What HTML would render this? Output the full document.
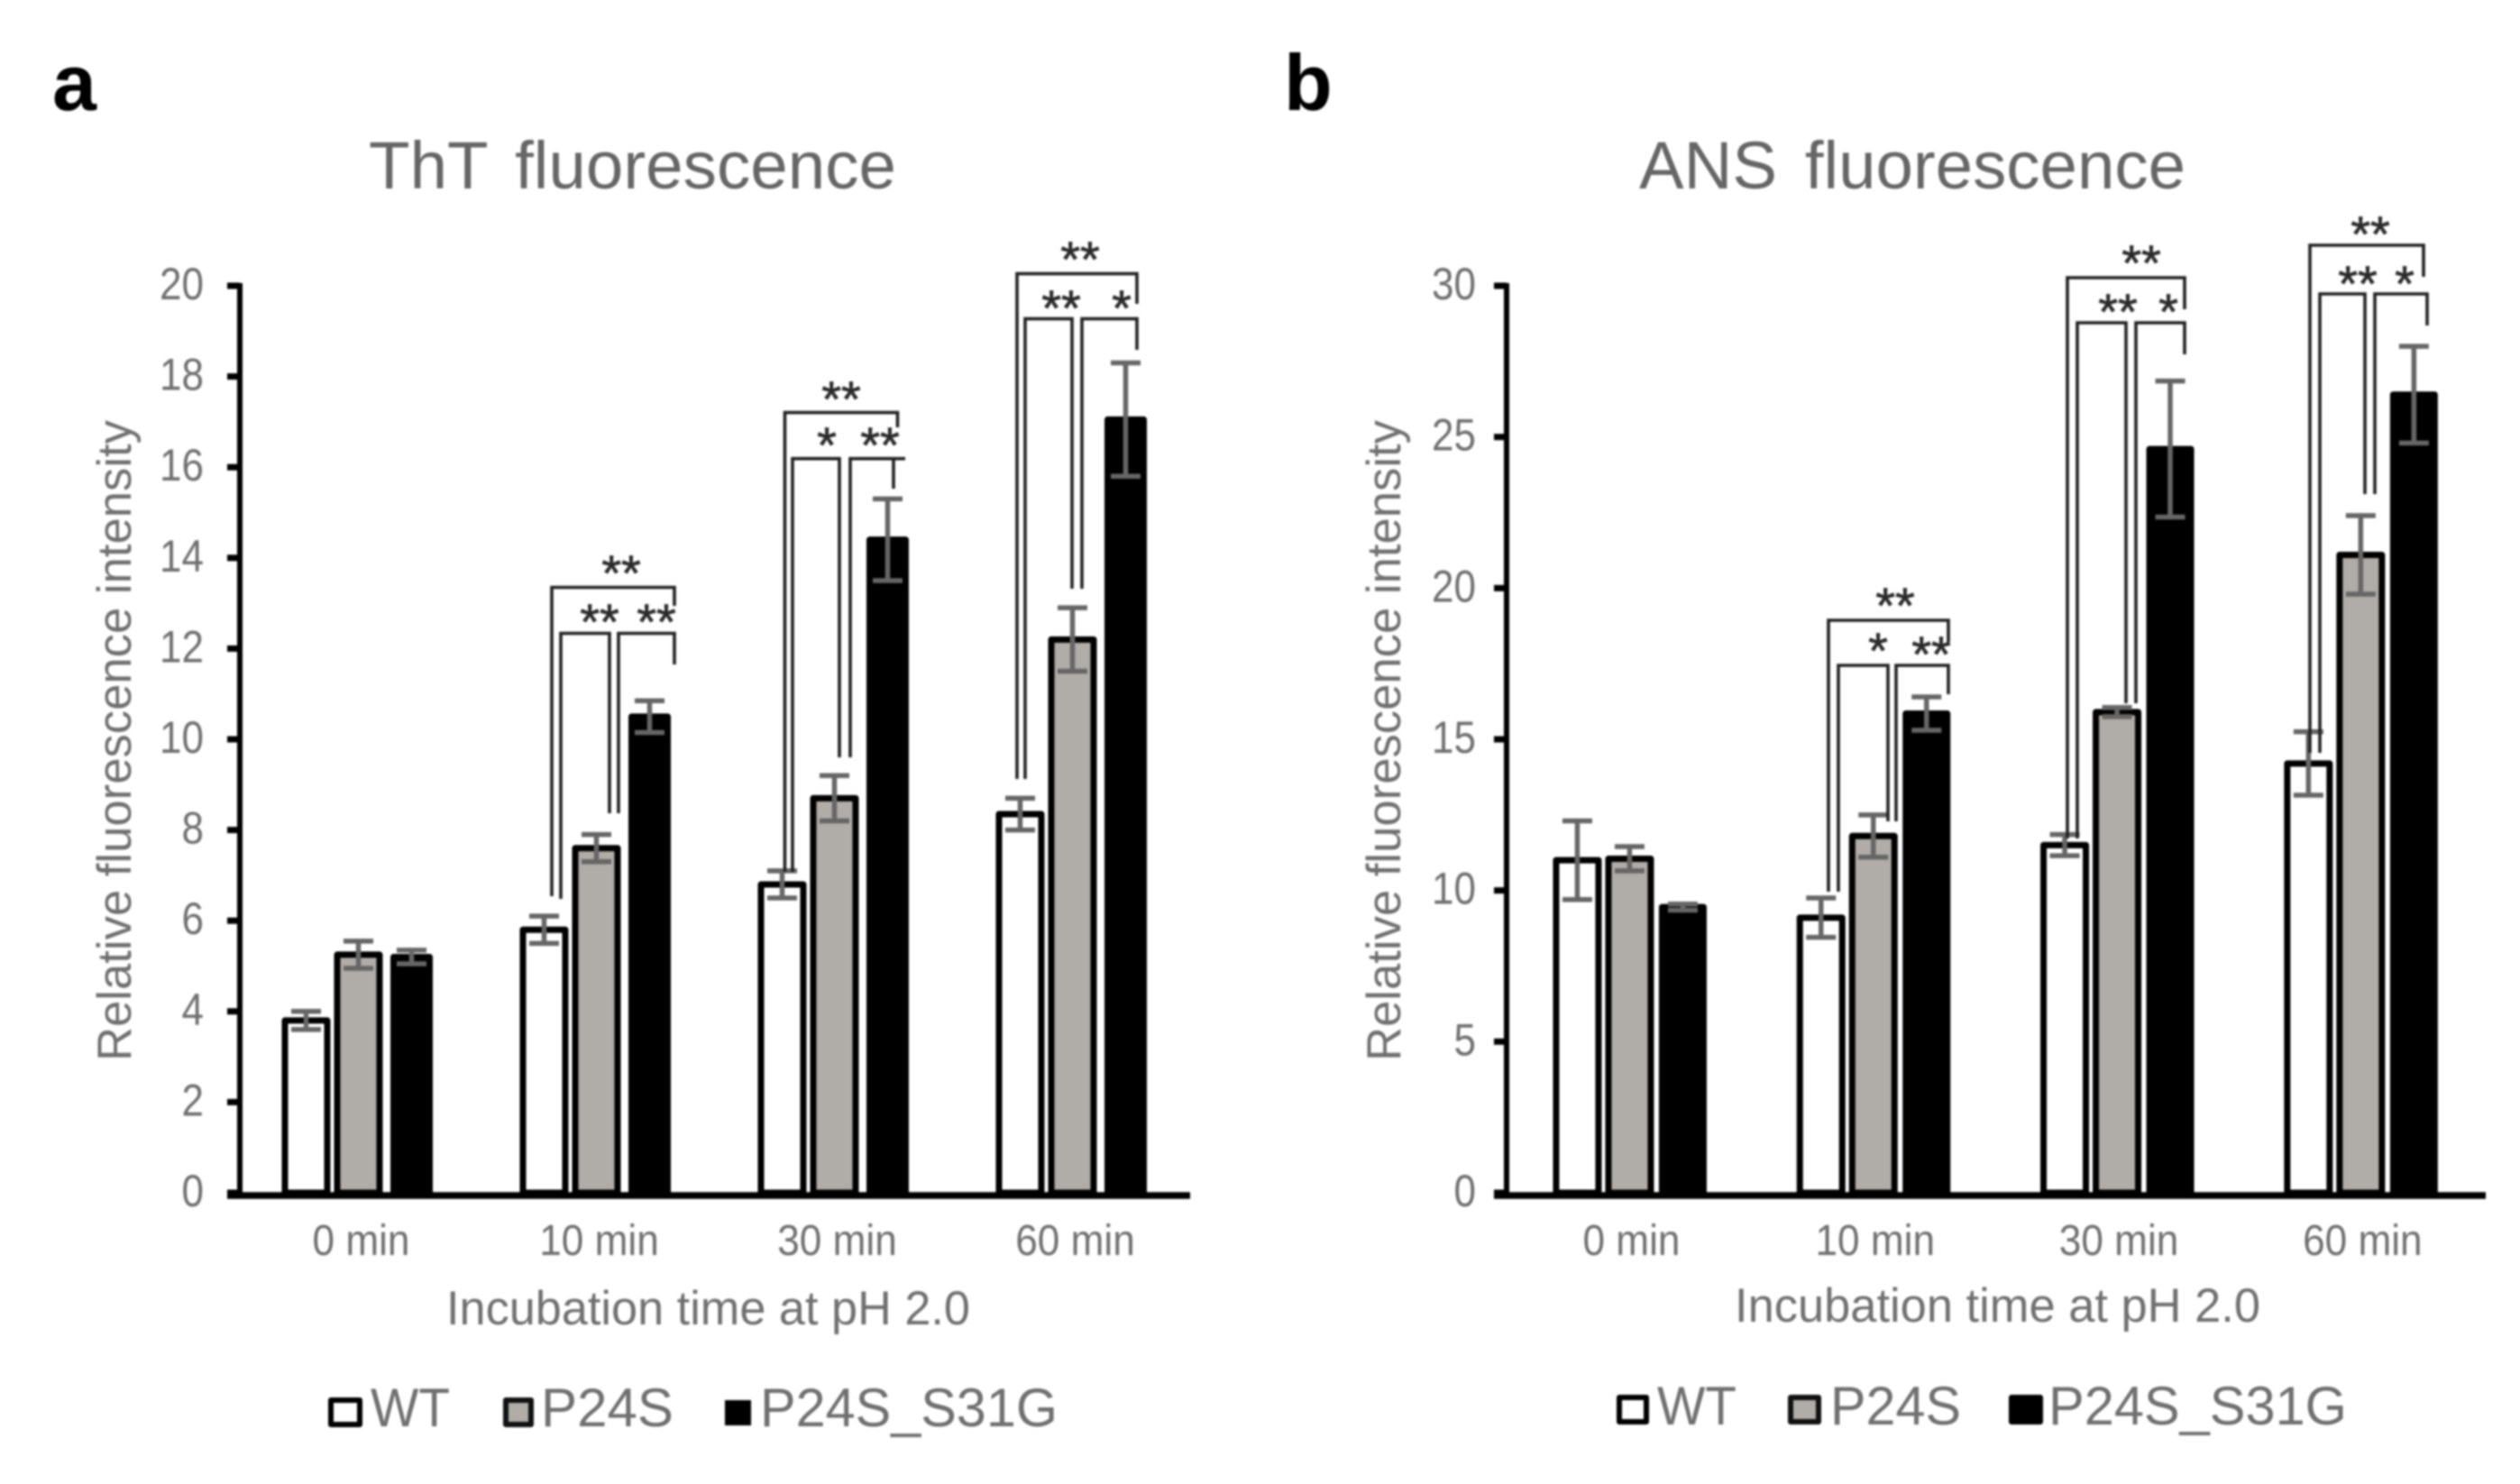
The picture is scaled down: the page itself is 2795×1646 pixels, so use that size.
<!DOCTYPE html>
<html lang="en">
<head>
<meta charset="utf-8">
<title>ThT and ANS fluorescence</title>
<style>
html,body{margin:0;padding:0;background:#fff;}
svg{display:block;filter:blur(1px);}
text{font-family:"Liberation Sans",sans-serif;fill:#707070;}
.panel{font-weight:700;font-size:88px;fill:#000;}
.title{font-size:74px;fill:#666;word-spacing:10px;}
.axt{font-size:53px;}
.leg{font-size:60px;}
.star{font-size:56px;fill:#2a2a2a;stroke:#2a2a2a;stroke-width:0.7;text-anchor:middle;}
.br{fill:none;stroke:#222;stroke-width:3.6;}
</style>
</head>
<body>
<svg id="fig" width="2795" height="1646" viewBox="0 0 2795 1646" xmlns="http://www.w3.org/2000/svg">
  <rect width="2795" height="1646" fill="#fff"/>

  <text class="panel" x="58" y="122">a</text>
  <text class="panel" x="1424" y="122">b</text>

  <text class="title" x="409" y="209" textLength="585" lengthAdjust="spacingAndGlyphs">ThT fluorescence</text>
  <text class="title" x="1818" y="209" textLength="606" lengthAdjust="spacingAndGlyphs">ANS fluorescence</text>

  <text class="axt" transform="translate(145,1177) rotate(-90)" textLength="711" lengthAdjust="spacingAndGlyphs">Relative fluorescence intensity</text>
  <text class="axt" transform="translate(1553,1177) rotate(-90)" textLength="711" lengthAdjust="spacingAndGlyphs">Relative fluorescence intensity</text>

  <text class="axt" x="495" y="1469" textLength="581" lengthAdjust="spacingAndGlyphs">Incubation time at pH 2.0</text>
  <text class="axt" x="1924" y="1466" textLength="583" lengthAdjust="spacingAndGlyphs">Incubation time at pH 2.0</text>

  <g id="chartA"></g>
  <g id="chartB"></g>

  <g>
    <path class="br" d="M612 994V651.5H748V672"/>
    <path class="br" d="M622 997V702.5H676V902"/>
    <path class="br" d="M686 902V702.5H748V737"/>
    <path class="br" d="M870.5 967V457.6H995.5V474"/>
    <path class="br" d="M879 967V508.7H931V840"/>
    <path class="br" d="M943 840V508.7H1004M991 508.7V542"/>
    <path class="br" d="M1128 864V303.6H1261V337"/>
    <path class="br" d="M1137 864V353.6H1189V653"/>
    <path class="br" d="M1200 653V353.6H1261V388"/>
    <text class="star" x="689" y="655">**</text>
    <text class="star" x="665" y="709">**</text>
    <text class="star" x="728" y="709">**</text>
    <text class="star" x="933" y="462">**</text>
    <text class="star" x="917" y="513">*</text>
    <text class="star" x="976" y="513">**</text>
    <text class="star" x="1198" y="307">**</text>
    <text class="star" x="1177" y="361">**</text>
    <text class="star" x="1244" y="361">*</text>
  </g>

  <g>
    <path class="br" d="M2028 989V688H2161V712"/>
    <path class="br" d="M2039 989V738H2094V911"/>
    <path class="br" d="M2103 911V738H2161V770"/>
    <path class="br" d="M2293 930V308H2423V343"/>
    <path class="br" d="M2304 930V358H2358V780"/>
    <path class="br" d="M2369 780V358H2423V393"/>
    <path class="br" d="M2562 835V272H2688V307"/>
    <path class="br" d="M2573 835V326H2623V548"/>
    <path class="br" d="M2634 548V326H2692V361"/>
    <text class="star" x="2102" y="691">**</text>
    <text class="star" x="2083" y="741">*</text>
    <text class="star" x="2142" y="745">**</text>
    <text class="star" x="2375" y="311">**</text>
    <text class="star" x="2349" y="365">**</text>
    <text class="star" x="2405" y="365">*</text>
    <text class="star" x="2629" y="279">**</text>
    <text class="star" x="2615" y="334">**</text>
    <text class="star" x="2667" y="334">*</text>
  </g>

  <g>
    <rect x="367" y="1553" width="32" height="27" fill="#fff" stroke="#000" stroke-width="6" stroke-linejoin="round"/>
    <text class="leg" x="411" y="1582" textLength="88" lengthAdjust="spacingAndGlyphs">WT</text>
    <rect x="561" y="1553" width="28" height="27" fill="#b0aca8" stroke="#111" stroke-width="6" stroke-linejoin="round"/>
    <text class="leg" x="600" y="1582" textLength="147" lengthAdjust="spacingAndGlyphs">P24S</text>
    <rect x="804" y="1553" width="29" height="28" fill="#000"/>
    <text class="leg" x="843" y="1582" textLength="330" lengthAdjust="spacingAndGlyphs">P24S_S31G</text>
  </g>
  <g>
    <rect x="1796" y="1550" width="30" height="27" fill="#fff" stroke="#000" stroke-width="6" stroke-linejoin="round"/>
    <text class="leg" x="1838" y="1580" textLength="88" lengthAdjust="spacingAndGlyphs">WT</text>
    <rect x="1986" y="1550" width="31" height="27" fill="#b0aca8" stroke="#111" stroke-width="6" stroke-linejoin="round"/>
    <text class="leg" x="2030" y="1580" textLength="145" lengthAdjust="spacingAndGlyphs">P24S</text>
    <rect x="2228" y="1547" width="38" height="33" fill="#000" rx="3"/>
    <text class="leg" x="2272" y="1580" textLength="331" lengthAdjust="spacingAndGlyphs">P24S_S31G</text>
  </g>
</svg>

<script>
// Shared categories
const categories = ['0 min', '10 min', '30 min', '60 min'];

// Panel a: ThT fluorescence
const thtTicks = [0, 2, 4, 6, 8, 10, 12, 14, 16, 18, 20];
const thtWT = [3.8, 5.8, 6.8, 8.35];
const thtP24S = [5.25, 7.6, 8.7, 12.2];
const thtS31G = [5.2, 10.5, 14.4, 17.05];
const thtWTErr = [0.2, 0.3, 0.3, 0.35];
const thtP24SErr = [0.3, 0.3, 0.5, 0.7];
const thtS31GErr = [0.15, 0.35, 0.9, 1.25];

// Panel b: ANS fluorescence
const ansTicks = [0, 5, 10, 15, 20, 25, 30];
const ansWT = [11, 9.1, 11.5, 14.2];
const ansP24S = [11.05, 11.8, 15.9, 21.1];
const ansS31G = [9.45, 15.85, 24.6, 26.4];
const ansWTErr = [1.3, 0.65, 0.35, 1.05];
const ansP24SErr = [0.4, 0.7, 0.15, 1.3];
const ansS31GErr = [0.1, 0.55, 2.25, 1.6];

const NS = 'http://www.w3.org/2000/svg';

function make(parent, tag, props, label) {
  const el = document.createElementNS(NS, tag);
  for (const k in props) el.setAttribute(k, props[k]);
  
  
  parent.appendChild(el);
  return el;
}

function squeeze(el, factor) {
  el.setAttribute('textLength', el.getComputedTextLength() * factor);
  el.setAttribute('lengthAdjust', 'spacingAndGlyphs');
}

function drawChart(root, prefix, layout, ticks, series, errors) {
  const yMax = ticks[ticks.length - 1];
  const yAxis = v => layout.y0 - v * (layout.y0 - layout.yTop) / yMax;
  const xBand = i => layout.bandStart + layout.bandStep * (i + 0.5);
  const fills = ['#fff', '#b0aca8', '#000'];
  const names = ['wt', 'p24s', 'p24s-s31g'];
  const offsets = [-58, 0, 59];
  const widths = [47, 47, layout.blackWidth];

  series.forEach((vals, s) => {
    vals.forEach((v, i) => {
      const cx = xBand(i) + offsets[s];
      const top = yAxis(v);
      make(root, 'rect', {
        x: cx - widths[s] / 2, y: top, width: widths[s], height: layout.y0 - top,
        fill: fills[s], stroke: '#000', 'stroke-width': 7, 'stroke-linejoin': 'round'
      }, 'bar-' + names[s] + '-' + categories[i].replace(' ', '-'));
    });
  });

  series.forEach((vals, s) => {
    vals.forEach((v, i) => {
      const cx = xBand(i) + offsets[s];
      const hi = yAxis(v + errors[s][i]);
      const lo = yAxis(v - errors[s][i]);
      const d = 'M' + cx + ' ' + hi + 'V' + lo +
                'M' + (cx - 16.5) + ' ' + hi + 'H' + (cx + 16.5) +
                'M' + (cx - 16.5) + ' ' + lo + 'H' + (cx + 16.5);
      make(root, 'path', { d: d, fill: 'none', stroke: '#666', 'stroke-width': 5.5 },
        'error-bar-' + names[s] + '-' + categories[i].replace(' ', '-'));
    });
  });

  make(root, 'line', {
    x1: layout.axisX, x2: layout.axisX, y1: layout.yTop - 3, y2: layout.y0 + 3,
    stroke: '#000', 'stroke-width': 6
  }, prefix + '-y-axis-line');
  make(root, 'line', {
    x1: layout.axisX - 14, x2: layout.xEnd, y1: layout.y0 + 3, y2: layout.y0 + 3,
    stroke: '#000', 'stroke-width': 7.5
  }, prefix + '-x-axis-line');

  ticks.forEach(t => {
    const y = yAxis(t);
    make(root, 'line', {
      x1: layout.axisX - 14, x2: layout.axisX, y1: y, y2: y,
      stroke: '#000', 'stroke-width': 7
    }, prefix + '-y-tick');
    const label = make(root, 'text', {
      x: layout.tickX, y: y + 15, 'text-anchor': 'end', 'font-size': 50
    }, prefix + '-y-tick-label');
    label.textContent = t;
    squeeze(label, 0.88);
  });

  categories.forEach((c, i) => {
    const label = make(root, 'text', {
      x: xBand(i) + layout.catNudge, y: 1392, 'text-anchor': 'middle', 'font-size': 48
    }, prefix + '-x-tick-label');
    label.textContent = c;
    squeeze(label, 0.92);
  });
}

drawChart(document.getElementById('chartA'), 'tht',
  { axisX: 266, xEnd: 1320, y0: 1323, yTop: 317, bandStart: 265.5, bandStep: 264, tickX: 226, catNudge: 3, blackWidth: 40 },
  thtTicks, [thtWT, thtP24S, thtS31G], [thtWTErr, thtP24SErr, thtS31GErr]);

drawChart(document.getElementById('chartB'), 'ans',
  { axisX: 1671, xEnd: 2757, y0: 1323, yTop: 317, bandStart: 1672.3, bandStep: 270.3, tickX: 1637, catNudge: 2, blackWidth: 46 },
  ansTicks, [ansWT, ansP24S, ansS31G], [ansWTErr, ansP24SErr, ansS31GErr]);
</script>
</body>
</html>
